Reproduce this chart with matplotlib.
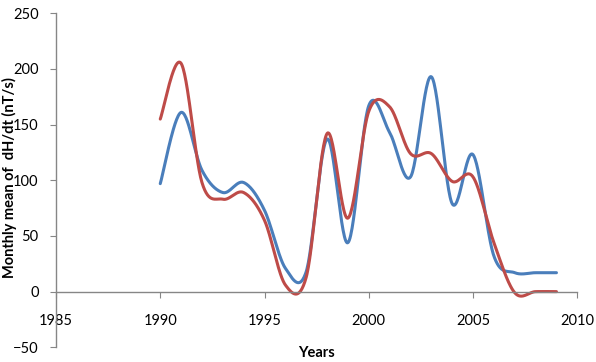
import numpy as np
import matplotlib.pyplot as plt

years = list(range(1990, 2010))
blue_vals = [97, 161, 109, 89, 98, 73, 21, 18, 137, 44,
             167, 143, 103, 193, 79, 123, 32, 17, 17, 17]
red_vals = [155, 205, 98, 83, 89, 64, 6, 13, 142, 66,
            162, 166, 124, 124, 99, 103, 44, -1, 0, 0]
x_ticks = [1985, 1990, 1995, 2000, 2005, 2010]
y_ticks = [-50, 0, 50, 100, 150, 200, 250]


def smooth(xs, ys, n=30):
    # Catmull-Rom through the points, like Excel's smoothed line
    xs = np.asarray(xs, float)
    ys = np.asarray(ys, float)
    px = np.concatenate([[xs[0]], xs, [xs[-1]]])
    py = np.concatenate([[ys[0]], ys, [ys[-1]]])
    outx, outy = [], []
    t = np.linspace(0, 1, n, endpoint=False)
    for i in range(1, len(px) - 2):
        for p, out in ((px, outx), (py, outy)):
            p0, p1, p2, p3 = p[i - 1], p[i], p[i + 1], p[i + 2]
            out.extend(0.5 * ((2 * p1) + (-p0 + p2) * t
                              + (2 * p0 - 5 * p1 + 4 * p2 - p3) * t ** 2
                              + (-p0 + 3 * p1 - 3 * p2 + p3) * t ** 3))
    outx.append(xs[-1])
    outy.append(ys[-1])
    return outx, outy


plt.rcParams['font.family'] = ['Lato', 'DejaVu Sans']

fig = plt.figure(figsize=(5.96, 3.62), dpi=100)
ax = fig.add_axes([56 / 596, 1 - 347.3 / 362, (577.3 - 56) / 596, (347.3 - 13.3) / 362])

bx, by = smooth(years, blue_vals)
rx, ry = smooth(years, red_vals)
ax.plot(bx, by, color='#4A7EBB', lw=2.2, solid_capstyle='round')
ax.plot(rx, ry, color='#BE4B48', lw=2.2, solid_capstyle='round')

ax.set_xlim(1985, 2010)
ax.set_ylim(-50, 250)
ax.set_xticks(x_ticks)
ax.set_yticks(y_ticks)

for s in ['top', 'right']:
    ax.spines[s].set_visible(False)
ax.spines['bottom'].set_position(('data', 0))
for s in ['left', 'bottom']:
    ax.spines[s].set_color('#868686')
    ax.spines[s].set_linewidth(1.0)

ax.tick_params(axis='x', direction='out', length=4, color='#868686', pad=12, labelsize=10.5)
ax.tick_params(axis='y', direction='out', length=4.5, color='#868686', pad=8, labelsize=10.5)

fig.text(9 / 596, 1 - 178 / 362, 'Monthly mean of  dH/dt (nT/s)', rotation=90,
         ha='center', va='center', fontsize=10.5, fontweight='bold')
fig.text(316 / 596, 1 - 353 / 362, 'Years', ha='center', va='center',
         fontsize=10.5, fontweight='bold')

fig.savefig('out.png', dpi=100)
